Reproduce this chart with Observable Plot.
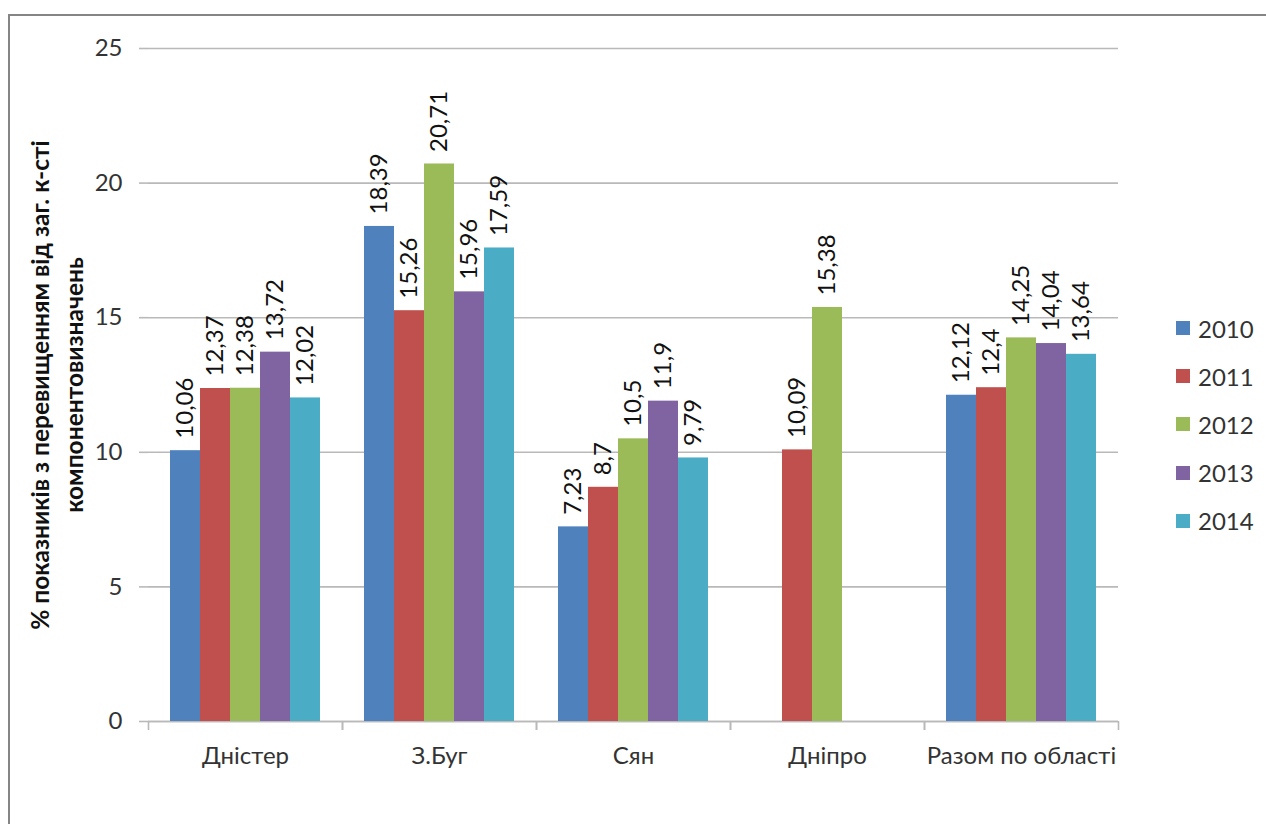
<!DOCTYPE html>
<html>
<head>
<meta charset="utf-8">
<script src="https://cdn.jsdelivr.net/npm/d3@7"></script>
<script src="https://cdn.jsdelivr.net/npm/@observablehq/plot@0.6"></script>
<style>
  html, body { margin: 0; padding: 0; background: #fff; overflow: hidden; }
  #wrap { position: relative; width: 1266px; height: 824px; }
  #border { position: absolute; left: 8px; top: 14px; width: 1400px; height: 1000px; border: 2.5px solid #858585; box-sizing: border-box; }
  #chart { position: absolute; left: 0; top: 0; }
  #legend { position: absolute; left: 1176px; top: 316px; font-family: Lato, "Open Sans", sans-serif; font-size: 24px; color: #333; }
  .item { display: flex; align-items: center; height: 48.2px; margin-top: 0; }
  .item:first-child { margin-top: -12px; }
  .sw { width: 14px; height: 14px; margin-right: 8px; }
</style>
</head>
<body>
<div id="wrap">
  <div id="border"></div>
  <div id="chart"></div>
  <div id="legend"></div>
</div>
<script>
const categories = ["Дністер", "З.Буг", "Сян", "Дніпро", "Разом по області"];
const years = ["2010", "2011", "2012", "2013", "2014"];
const v2010 = [10.06, 18.39, 7.23, null, 12.12];
const v2011 = [12.37, 15.26, 8.7, 10.09, 12.4];
const v2012 = [12.38, 20.71, 10.5, 15.38, 14.25];
const v2013 = [13.72, 15.96, 11.9, null, 14.04];
const v2014 = [12.02, 17.59, 9.79, null, 13.64];
const colors = ["#4F81BD", "#C0504D", "#9BBB59", "#8064A2", "#4BACC6"];
const yTicks = [0, 5, 10, 15, 20, 25];
const yLabel = "% показників з перевищенням від заг. к-сті\nкомпонентовизначень";

const series = [v2010, v2011, v2012, v2013, v2014];
const data = [];
years.forEach((yr, j) => {
  categories.forEach((c, i) => {
    const v = series[j][i];
    if (v != null) data.push({cat: c, year: yr, value: v});
  });
});

const W = 1266, H = 824, ML = 148, MR = 148, MT = 48, MB = 103;
const facetW = (W - ML - MR) / categories.length;
const grey = "#b9b9b9";
const font = "Lato, 'Open Sans', sans-serif";

const chart = Plot.plot({
  width: W,
  height: H,
  marginLeft: ML,
  marginRight: MR,
  marginTop: MT,
  marginBottom: MB,
  style: {fontFamily: font, fontSize: "24px", background: "transparent", overflow: "visible"},
  fx: {domain: categories, padding: 0},
  x: {domain: years, paddingInner: 0, paddingOuter: 0.733, axis: null},
  y: {domain: [0, 25]},
  color: {domain: years, range: colors},
  marks: [
    Plot.gridY(yTicks, {stroke: grey, strokeOpacity: 1, strokeWidth: 1.6}),
    Plot.ruleY([0], {stroke: grey, strokeWidth: 1.6}),
    Plot.ruleX([0], {x: null, y1: 0, y2: 0, dx: -facetW / 2, insetBottom: -9, stroke: grey, strokeWidth: 1.6}),
    Plot.ruleX([0], {x: null, y1: 0, y2: 0, dx: facetW / 2, insetBottom: -9, stroke: grey, strokeWidth: 1.6}),
    Plot.barY(data, {fx: "cat", x: "year", y: "value", fill: "year"}),
    Plot.text(data, {
      fx: "cat", x: "year", y: "value",
      text: d => String(d.value).replace(".", ","),
      rotate: -90, textAnchor: "start", dy: -12, fill: "#111", fontSize: 24
    }),
    Plot.axisY({ticks: yTicks, tickSize: 9, tickPadding: 17, label: null, stroke: grey, strokeWidth: 1.6, fill: "#333", line: true}),
    Plot.axisFx({anchor: "bottom", tickSize: 0, tickPadding: 25, label: null, fill: "#333"}),
    Plot.text([yLabel], {
      fx: () => categories[0], text: d => d, frameAnchor: "left", textAnchor: "middle", dx: -93,
      rotate: -90, fontWeight: "bold", fontSize: 24.5, lineHeight: 1.39, fill: "#111"
    })
  ]
});
document.getElementById("chart").appendChild(chart);

const legend = document.getElementById("legend");
years.forEach((yr, j) => {
  const item = document.createElement("div");
  item.className = "item";
  const sw = document.createElement("div");
  sw.className = "sw";
  sw.style.background = colors[j];
  const lab = document.createElement("span");
  lab.textContent = yr;
  item.appendChild(sw);
  item.appendChild(lab);
  legend.appendChild(item);
});
</script>
</body>
</html>
